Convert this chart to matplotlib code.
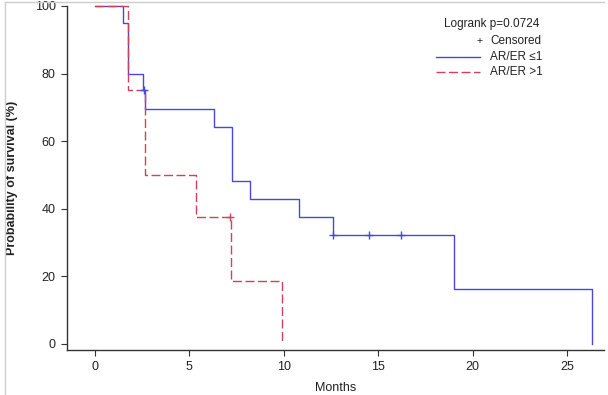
import matplotlib as mpl
mpl.use('Agg')
import matplotlib.pyplot as plt
from matplotlib.lines import Line2D

plt.rcParams['font.family'] = ['Liberation Sans', 'DejaVu Sans']

# step data (months, % surviving)
low_times = [0, 1.47, 1.73, 2.56, 2.66, 6.3, 7.26, 8.2, 10.8, 12.6, 19.0, 26.3]
low_surv = [100, 95, 80, 75, 69.6, 64.3, 48.2, 42.8, 37.5, 32.1, 16.1, 0]
low_cens_t = [2.62, 12.6, 14.5, 16.2]
low_cens_s = [75, 32.1, 32.1, 32.1]

high_times = [0, 1.73, 2.65, 5.34, 7.2, 9.9]
high_surv = [100, 75, 50, 37.5, 18.75, 0]
high_cens_t = [7.17]
high_cens_s = [37.5]

xticks = [0, 5, 10, 15, 20, 25]
yticks = [0, 20, 40, 60, 80, 100]
pval = 0.0724

blue = '#4848dc'
red = '#d2405c'

fig = plt.figure(figsize=(6.08, 3.95), dpi=100)
ax = fig.add_axes([0.110, 0.114, 0.883, 0.871])

ax.step(low_times, low_surv, where='post', color=blue, lw=1.0, clip_on=False)
ax.step(high_times, high_surv, where='post', color=red, lw=1.0,
        linestyle=(0, (6.5, 2.5)), clip_on=False)
ax.plot(low_cens_t, low_cens_s, '+', color=blue, ms=6, mew=1.0, clip_on=False)
ax.plot(high_cens_t, high_cens_s, '+', color=red, ms=6, mew=1.0, clip_on=False)

ax.set_xlim(-1.48, 26.93)
ax.set_ylim(-1.8, 100)
ax.set_xticks(xticks)
ax.set_yticks(yticks)
for s in ['top', 'right']:
    ax.spines[s].set_visible(False)
for s in ['left', 'bottom']:
    ax.spines[s].set_color('#333333')
    ax.spines[s].set_linewidth(1.0)
ax.tick_params(direction='out', length=4, width=0.8, color='#333333',
               labelsize=9, labelcolor='#222222', pad=4)
ax.set_xlabel('Months', fontsize=9, color='#222222')
ax.set_ylabel('Probability of survival (%)', fontsize=9, fontweight='bold',
              color='#222222')
ax.xaxis.set_label_coords(0.5, -0.094)
ax.yaxis.set_label_coords(-0.091, 0.5)

# legend block, drawn by hand like the original
fs = 8.5
fig.text(0.887, 0.938, 'Logrank p=%.4f' % pval, fontsize=fs, ha='right', va='center', color='#222222')
fig.text(0.788, 0.896, '+', fontsize=7.5, ha='center', va='center', color='#222222')
fig.text(0.806, 0.896, 'Censored', fontsize=fs, ha='left', va='center', color='#222222')
fig.add_artist(Line2D([0.717, 0.790], [0.855, 0.855], color=blue, lw=1.0))
fig.text(0.806, 0.855, 'AR/ER \u22641', fontsize=fs, ha='left', va='center', color='#222222')
fig.add_artist(Line2D([0.717, 0.790], [0.817, 0.817], color=red, lw=1.0,
                      linestyle=(0, (6.5, 2.5))))
fig.text(0.806, 0.817, 'AR/ER >1', fontsize=fs, ha='left', va='center', color='#222222')

# faint frame at top and left of the image
fig.add_artist(Line2D([0.008, 0.993], [0.995, 0.995], color='#cccccc', lw=1.0))
fig.add_artist(Line2D([0.008, 0.008], [0.0, 0.995], color='#cccccc', lw=1.0))

fig.savefig('out.png', dpi=100)
